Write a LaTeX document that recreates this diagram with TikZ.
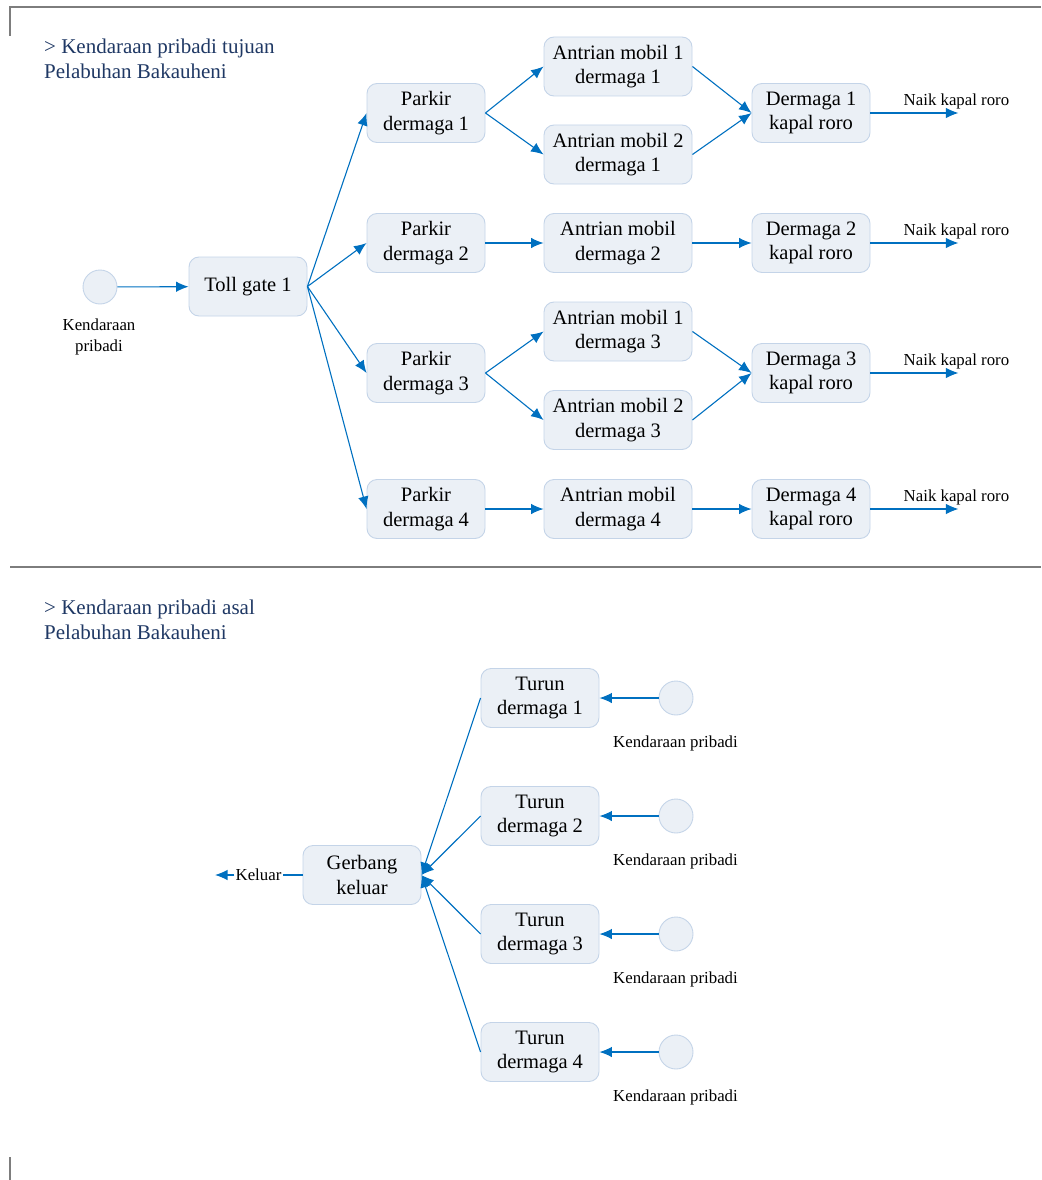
\documentclass[tikz,border=0pt]{standalone}
\usepackage{fontspec}
\setmainfont{Liberation Serif}
\usetikzlibrary{arrows.meta,calc}

\definecolor{flow}{RGB}{0,112,192}
\definecolor{boxfill}{RGB}{235,240,246}
\definecolor{boxline}{RGB}{196,212,232}
\definecolor{headblue}{RGB}{31,56,100}
\definecolor{rulegray}{RGB}{125,125,125}

\begin{document}
\begin{tikzpicture}[x=1pt,y=-1pt,
  stepbox/.style={draw=boxline, fill=boxfill, line width=0.9pt, rounded corners=10pt,
    minimum width=118pt, minimum height=59pt, inner sep=0pt, align=center,
    font=\fontsize{20.5}{24.6}\selectfont},
  widebox/.style={stepbox, minimum width=148pt},
  src/.style={circle, draw=boxline, fill=boxfill, line width=0.9pt, minimum size=34pt, inner sep=0pt},
  lbl/.style={inner sep=0pt, align=center, font=\fontsize{16.8}{21}\selectfont},
  headtext/.style={inner sep=0pt, anchor=north west, align=left, text=headblue,
    font=\fontsize{21}{25}\selectfont},
  flowline/.style={draw=flow, line width=1.1pt},
  arr/.style={flowline, -{Latex[length=12.5pt,width=10.5pt]}},
  framerule/.style={draw=rulegray, line width=1.6pt}
]
\useasboundingbox (0,0) rectangle (1041,1180);

% page frame rules
\draw[framerule] (10,36) -- (10,7) -- (1041,7);
\draw[framerule] (10,567) -- (1041,567);
\draw[framerule] (10,1157) -- (10,1180);

% ---------- private vehicles heading to the port ----------
\node[headtext] (h1) at (44,38.5) {> Kendaraan pribadi tujuan\\Pelabuhan Bakauheni};

\node[src] (car) at (100,287) {};
\node[lbl] (carl) at (99,337) {Kendaraan\\pribadi};
\node[stepbox] (toll) at (248,286.5) {Toll gate 1};

\node[stepbox] (p1) at (426,113) {Parkir\\dermaga 1};
\node[stepbox] (p2) at (426,243) {Parkir\\dermaga 2};
\node[stepbox] (p3) at (426,373) {Parkir\\dermaga 3};
\node[stepbox] (p4) at (426,509) {Parkir\\dermaga 4};

\node[widebox] (a11) at (618,66.5)  {Antrian mobil 1\\dermaga 1};
\node[widebox] (a21) at (618,154.5) {Antrian mobil 2\\dermaga 1};
\node[widebox] (a2)  at (618,243)   {Antrian mobil\\dermaga 2};
\node[widebox] (a13) at (618,331.5) {Antrian mobil 1\\dermaga 3};
\node[widebox] (a23) at (618,420)   {Antrian mobil 2\\dermaga 3};
\node[widebox] (a4)  at (618,509)   {Antrian mobil\\dermaga 4};

\node[stepbox] (d1) at (811,113) {Dermaga 1\\kapal roro};
\node[stepbox] (d2) at (811,243) {Dermaga 2\\kapal roro};
\node[stepbox] (d3) at (811,373) {Dermaga 3\\kapal roro};
\node[stepbox] (d4) at (811,509) {Dermaga 4\\kapal roro};

\draw[arr] (car) -- (toll);
\foreach \p in {p1,p2,p3,p4} \draw[arr] (toll.east) -- (\p.west);

\draw[arr] (p1.east) -- (a11.west);
\draw[arr] (p1.east) -- (a21.west);
\draw[arr] (a11.east) -- (d1.west);
\draw[arr] (a21.east) -- (d1.west);

\draw[arr] (p2.east) -- (a2.west);
\draw[arr] (a2.east) -- (d2.west);

\draw[arr] (p3.east) -- (a13.west);
\draw[arr] (p3.east) -- (a23.west);
\draw[arr] (a13.east) -- (d3.west);
\draw[arr] (a23.east) -- (d3.west);

\draw[arr] (p4.east) -- (a4.west);
\draw[arr] (a4.east) -- (d4.west);

\foreach \d in {d1,d2,d3,d4} {
  \coordinate (\d end) at ($(\d.east)+(88,0)$);
  \draw[arr] (\d.east) -- (\d end);
  \node[lbl] (\d lbl) at ($(\d end)+(-2,-12)$) {Naik kapal roro};
}

% ---------- private vehicles leaving the port ----------
\node[headtext] (h2) at (44,600) {> Kendaraan pribadi asal\\Pelabuhan Bakauheni};

\node[stepbox] (gate) at (362,875) {Gerbang\\keluar};

\node[lbl] (out) at (258.5,875) [inner xsep=1pt] {Keluar};
\coordinate (exit) at (215,875);
\draw[flowline] (gate.west) -- (out.east);
\draw[arr] (out.west) -- (exit);

\foreach \i/\y in {1/698,2/816,3/934,4/1052} {
  \node[stepbox] (t\i) at (540,\y) {Turun\\dermaga \i};
  \node[src] (c\i) at (676,\y) {};
  \node[lbl] (c\i lbl) at ($(c\i)+(-0.5,45.5)$) {Kendaraan pribadi};
  \draw[arr] (c\i) -- (t\i);
  \draw[arr] (t\i.west) -- (gate.east);
}

\end{tikzpicture}
\end{document}
